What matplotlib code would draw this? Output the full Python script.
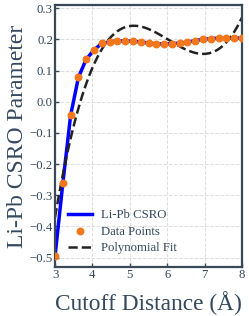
import numpy as np
import matplotlib
matplotlib.use("Agg")
import matplotlib.pyplot as plt

# cutoff distances (Angstrom) and CSRO values
cutoff = np.linspace(3.0, 8.0, 25)
csro = [-0.495, -0.262, -0.044, 0.078, 0.136, 0.166, 0.187, 0.192, 0.195,
        0.195, 0.194, 0.192, 0.188, 0.186, 0.185, 0.186, 0.188, 0.191,
        0.196, 0.200, 0.202, 0.204, 0.204, 0.204, 0.204]

fit_degree = 3

text_color = "#34495e"
plt.rcParams["font.family"] = ["Liberation Serif", "DejaVu Serif"]
plt.rcParams["text.color"] = text_color
plt.rcParams["axes.labelcolor"] = text_color
plt.rcParams["xtick.color"] = text_color
plt.rcParams["ytick.color"] = text_color

coef = np.polyfit(cutoff, csro, fit_degree)
xs = np.linspace(3.0, 8.0, 200)

fig = plt.figure(figsize=(2.49, 3.16), dpi=100)
ax = fig.add_axes([0.221, 0.155, 0.751, 0.829])

ax.plot(cutoff, csro, color="#0000ff", lw=2.5, label="Li-Pb CSRO", zorder=2)
ax.scatter(cutoff, csro, color="#f5771c", s=22, label="Data Points", zorder=3)
ax.plot(xs, np.polyval(coef, xs), color="#222222", ls="--", lw=1.8,
        label="Polynomial Fit", zorder=2)

ax.set_xlim(3, 8)
ax.set_ylim(-0.53, 0.31)
ax.set_xticks([3, 4, 5, 6, 7, 8])
ax.set_yticks([-0.5, -0.4, -0.3, -0.2, -0.1, 0.0, 0.1, 0.2, 0.3])
ax.set_yticklabels(["\u22120.5", "\u22120.4", "\u22120.3", "\u22120.2", "\u22120.1",
                    "0.0", "0.1", "0.2", "0.3"])
ax.tick_params(direction="in", length=3, width=1, labelsize=9.2, pad=1.5)
ax.grid(True, ls="--", color="#dddddd", lw=0.7)
ax.set_axisbelow(True)
for s in ax.spines.values():
    s.set_color("#3b4856")
    s.set_linewidth(1.6)

ax.set_xlabel("Cutoff Distance (Å)", fontsize=16.8, labelpad=7)
ax.set_ylabel("Li-Pb CSRO Parameter", fontsize=17, labelpad=1)
ax.legend(loc="lower left", frameon=False, fontsize=9.2, handlelength=1.9,
          handletextpad=0.7, labelspacing=0.35, borderaxespad=0.6)

fig.savefig("out.png", dpi=100)
